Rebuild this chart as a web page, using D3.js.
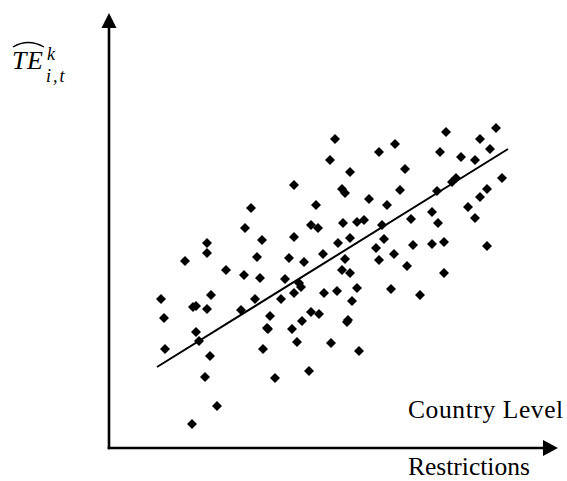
<!DOCTYPE html>
<html>
<head>
<meta charset="utf-8">
<script src="https://cdn.jsdelivr.net/npm/d3@7/dist/d3.min.js"></script>
<style>
  html, body { margin: 0; padding: 0; background: #fff; }
  svg { display: block; }
  text { font-family: "Liberation Serif", "Times New Roman", serif; fill: #000; }
</style>
</head>
<body>
<svg id="chart" width="567" height="481"></svg>
<script>
// Restriction level (x) and estimated technical efficiency (y), in axis units
const restrictions = [
  142, 136, 153, 98, 98, 226, 286, 270, 221, 241, 296, 185, 233, 236, 291, 260,
  207, 278, 202, 209, 234, 248, 255, 273, 302, 185, 241, 275, 229, 267, 337, 387,
  371, 381, 331, 352, 366, 393, 347, 343, 378, 328, 371, 323, 359, 329, 366, 304,
  323, 335, 378, 76, 148, 117, 135, 151, 52, 102, 84, 87, 98, 146, 132, 172,
  55, 161, 158, 159, 87, 90, 56, 154, 101, 96, 166, 108, 83, 285, 180, 214,
  195, 236, 270, 298, 233, 241, 176, 190, 192, 185, 215, 228, 248, 282, 243, 202,
  210, 193, 239, 238, 183, 188, 222, 250, 200, 335, 311
];
const efficiency = [
  240, 220, 208, 205, 195, 309, 304, 296, 288, 276, 279, 263, 259, 255, 258, 249,
  243, 243, 223, 220, 225, 226, 228, 223, 229, 211, 210, 209, 205, 200, 316, 320,
  309, 299, 296, 291, 288, 270, 270, 266, 259, 257, 251, 236, 241, 225, 230, 203,
  204, 206, 202, 187, 191, 178, 173, 170, 149, 153, 141, 142, 139, 149, 138, 149,
  130, 132, 120, 119, 116, 107, 99, 99, 92, 71, 70, 42, 24, 194, 190, 194,
  186, 189, 188, 182, 178, 175, 169, 165, 161, 155, 155, 157, 160, 159, 147, 136,
  134, 127, 128, 126, 119, 106, 105, 97, 77, 175, 153
];
// Fitted trend line end points
const fitX = [48, 399];
const fitY = [81, 299];

const xLabel = "Restrictions";
const levelLabel = "Country Level";

const svg = d3.select("#chart");

const x = d3.scaleLinear().domain([0, 460]).range([109, 569]);
const y = d3.scaleLinear().domain([0, 440]).range([448, 8]);

// axes with arrow heads
const axisEndX = 449, axisEndY = 435;
svg.append("line")
  .attr("x1", x(0) - 1.25).attr("y1", y(0))
  .attr("x2", x(axisEndX) - 12).attr("y2", y(0))
  .attr("stroke", "#000").attr("stroke-width", 2.6);
svg.append("line")
  .attr("x1", x(0)).attr("y1", y(0) + 1.25)
  .attr("x2", x(0)).attr("y2", y(axisEndY) + 12)
  .attr("stroke", "#000").attr("stroke-width", 2.6);
svg.append("path")
  .attr("d", `M${x(axisEndX)},${y(0)} L${x(axisEndX) - 15},${y(0) - 8} L${x(axisEndX) - 15},${y(0) + 8} Z`)
  .attr("fill", "#000");
svg.append("path")
  .attr("d", `M${x(0)},${y(axisEndY)} L${x(0) - 7.5},${y(axisEndY) + 15} L${x(0) + 7.5},${y(axisEndY) + 15} Z`)
  .attr("fill", "#000");

// scatter points (diamonds)
const pts = restrictions.map((v, i) => ({ x: v, y: efficiency[i] }));
const diamond = d3.symbol().type(d3.symbolSquare).size(50);
svg.append("g").selectAll("path")
  .data(pts)
  .join("path")
  .attr("d", diamond)
  .attr("transform", d => `translate(${x(d.x)},${y(d.y)}) rotate(45)`)
  .attr("fill", "#000");

// trend line
svg.append("path")
  .datum(fitX.map((v, i) => [v, fitY[i]]))
  .attr("d", d3.line().x(d => x(d[0])).y(d => y(d[1])))
  .attr("fill", "none").attr("stroke", "#000").attr("stroke-width", 2);

// labels
svg.append("text").attr("x", 408).attr("y", 418)
  .attr("font-size", 25.5).attr("letter-spacing", 0.6).text(levelLabel);
svg.append("text").attr("x", 408).attr("y", 475)
  .attr("font-size", 25.5).text(xLabel);

// y label: TE with wide hat, superscript k and subscript i,t
const yl = svg.append("text").attr("font-style", "italic")
  .attr("x", 12).attr("y", 69).attr("font-size", 26);
yl.append("tspan").attr("letter-spacing", 0.5).text("TE");
yl.append("tspan").attr("x", 47).attr("y", 60).attr("font-size", 18).text("k");
yl.append("tspan").attr("x", 46).attr("y", 82).attr("font-size", 18)
  .attr("letter-spacing", 2).text("i,t");
svg.append("path")
  .attr("d", "M13,47 Q28,38 44,47")
  .attr("fill", "none").attr("stroke", "#000").attr("stroke-width", 1.3);
</script>
</body>
</html>
